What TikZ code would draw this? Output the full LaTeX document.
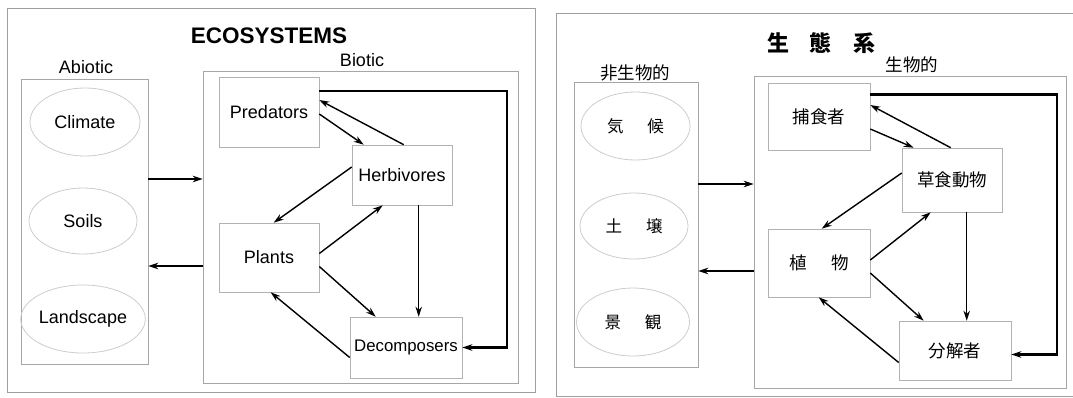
\documentclass[tikz,border=0pt]{standalone}
\usepackage{fontspec}
\setmainfont{Liberation Sans}
\newfontfamily\cjk{Noto Sans CJK JP}
\usetikzlibrary{arrows.meta,calc,shapes.geometric}
\begin{document}
\begin{tikzpicture}[x=1pt,y=-1pt,
  panel/.style={draw=gray!75, line width=0.7pt, rectangle, inner sep=0pt},
  grp/.style={draw=gray!70, line width=0.6pt, rectangle, inner sep=0pt},
  unit/.style={draw=gray!60, line width=0.6pt, rectangle, inner sep=0pt, font=\fontsize{18}{20}\selectfont},
  cunit/.style={unit, font=\cjk\fontsize{17.5}{20}\selectfont},
  oval/.style={draw=gray!40, line width=0.8pt, ellipse, inner sep=0pt, font=\fontsize{18}{20}\selectfont},
  coval/.style={oval, font=\cjk\fontsize{16.5}{20}\selectfont},
  lbl/.style={inner sep=0pt, font=\fontsize{18}{20}\selectfont},
  clbl/.style={inner sep=0pt, font=\cjk\fontsize{17.5}{20}\selectfont},
  arr/.style={-{Stealth[length=10pt,width=6.5pt]}, line width=1.4pt, draw=black},
  feed/.style={arr, line width=2.3pt}]
\useasboundingbox (0,0) rectangle (1073,397);
\clip (0,0) rectangle (1073,397);

% ================= LEFT PANEL =================
\node[panel, minimum width=528pt, minimum height=384pt] (frameL) at (271,200) {};
\node[inner sep=0pt, font=\bfseries\fontsize{22.5}{24}\selectfont] (titleL) at (269,36) {ECOSYSTEMS};
\node[grp, minimum width=127pt, minimum height=285pt] (abioL) at (84.5,221.5) {};
\node[lbl] (abiolblL) at (86,67) {Abiotic};
\node[grp, minimum width=315pt, minimum height=312pt] (bioL) at (360.5,227) {};
\node[lbl] (biolblL) at (362,60) {Biotic};

\node[oval, minimum width=110pt, minimum height=68pt] (climL) at (85,122) {Climate};
\node[oval, minimum width=108pt, minimum height=66pt] (soilL) at (83,221) {Soils};
\node[oval, minimum width=112pt, minimum height=68pt] (landL) at (83,319) {Landscape};

\node[unit, minimum width=100pt, minimum height=70pt] (predL) at (269,112) {Predators};
\node[unit, minimum width=100pt, minimum height=60pt] (herbL) at (402,175) {Herbivores};
\node[unit, minimum width=100pt, minimum height=69pt] (plantL) at (269,257.5) {Plants};
\node[unit, minimum width=112pt, minimum height=61pt, font=\fontsize{16.8}{20}\selectfont] (decL) at (406,347.5) {Decomposers};

\draw[arr] ([yshift=-2pt]predL.east) -- ([xshift=12pt]herbL.north west);
\draw[arr] ([xshift=52pt]herbL.north west) -- ([yshift=12pt]predL.east);
\draw[arr] ([yshift=8pt]herbL.west) -- ([xshift=55pt]plantL.north west);
\draw[arr] ([yshift=4pt]plantL.east) -- ([xshift=31pt]herbL.south west);
\draw[arr] ([yshift=-9pt]plantL.east) -- ([xshift=26pt]decL.north west);
\draw[arr] ([yshift=-10pt]decL.west) -- ([xshift=52pt]plantL.south west);
\draw[arr] ([xshift=67pt]herbL.south west) -- ([xshift=67pt]herbL.south west |- decL.north);
\draw[feed] ([yshift=21pt]predL.east) -- ++(188,0) |- (decL.east);
\draw[arr] (abioL.east |- 0,179) -- (bioL.west |- 0,179);
\draw[arr] (bioL.west |- 0,266) -- (abioL.east |- 0,266);

% ================= RIGHT PANEL =================
\node[panel, minimum width=524pt, minimum height=383pt] (frameR) at (818,204.5) {};
\node[inner sep=0pt, font=\cjk\bfseries\fontsize{22}{24}\selectfont] (titleR) at (821,43) {生\hspace{21pt}態\hspace{21pt}系};
\node[grp, minimum width=124pt, minimum height=285pt] (abioR) at (636,224.5) {};
\node[clbl] (abiolblR) at (635,73) {非生物的};
\node[grp, minimum width=312pt, minimum height=312pt] (bioR) at (910,232) {};
\node[clbl] (biolblR) at (912,65) {生物的};

\node[coval, minimum width=109pt, minimum height=68pt] (climR) at (635.5,126) {気\hspace{24pt}候};
\node[coval, minimum width=108pt, minimum height=66pt] (soilR) at (634,226) {土\hspace{24pt}壌};
\node[coval, minimum width=113pt, minimum height=68pt] (landR) at (633,322) {景\hspace{24pt}観};

\node[cunit, minimum width=102pt, minimum height=67pt] (predR) at (819,116.5) {捕食者};
\node[cunit, minimum width=100pt, minimum height=64pt] (herbR) at (952,180) {草食動物};
\node[cunit, minimum width=102pt, minimum height=68pt] (plantR) at (819,263) {植\hspace{24pt}物};
\node[cunit, minimum width=112pt, minimum height=59pt] (decR) at (955,350.5) {分解者};

\draw[arr] ([yshift=-12.5pt]predR.east) -- ([xshift=12pt]herbR.north west);
\draw[arr] ([xshift=49pt]herbR.north west) -- ([yshift=11.5pt]predR.east);
\draw[arr] ([yshift=7pt]herbR.west) -- ([xshift=54pt]plantR.north west);
\draw[arr] ([yshift=3pt]plantR.east) -- ([xshift=29pt]herbR.south west);
\draw[arr] ([yshift=-10pt]plantR.east) -- ([xshift=25pt]decR.north west);
\draw[arr] ([yshift=-12pt]decR.west) -- ([xshift=51pt]plantR.south west);
\draw[arr] ([xshift=65pt]herbR.south west) -- ([xshift=65pt]herbR.south west |- decR.north);
\draw[feed] ([yshift=22pt]predR.east) -- ++(187,0) |- ([yshift=-4pt]decR.east);
\draw[arr] (abioR.east |- 0,184) -- (bioR.west |- 0,184);
\draw[arr] (bioR.west |- 0,271) -- (abioR.east |- 0,271);
\end{tikzpicture}
\end{document}
